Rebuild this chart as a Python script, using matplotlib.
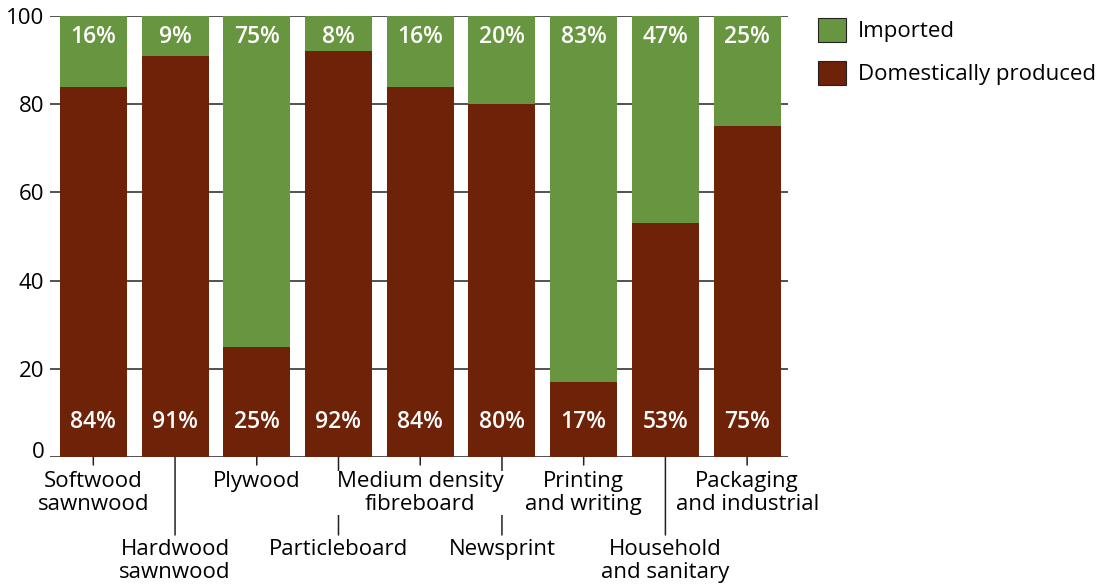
import numpy as np
import matplotlib.pyplot as plt
from matplotlib.patches import Patch
from matplotlib.transforms import ScaledTranslation

plt.rcParams['font.family'] = ['Open Sans', 'DejaVu Sans']

categories = ['Softwood\nsawnwood', 'Hardwood\nsawnwood', 'Plywood', 'Particleboard',
              'Medium density\nfibreboard', 'Newsprint', 'Printing\nand writing',
              'Household\nand sanitary', 'Packaging\nand industrial']
domestic = [84, 91, 25, 92, 84, 80, 17, 53, 75]
imported = [16, 9, 75, 8, 16, 20, 83, 47, 25]

green = '#689640'
brown = '#6e2308'
fs = 16

fig = plt.figure(figsize=(11.06, 5.86), dpi=100)
ax = fig.add_axes([50 / 1106, 129 / 586, 738 / 1106, 441 / 586])

x = np.arange(len(categories))
ax.bar(x, domestic, width=0.82, color=brown, zorder=2)
ax.bar(x, imported, width=0.82, bottom=domestic, color=green, zorder=2)

for i in x:
    ax.text(i, 8, f'{domestic[i]}%', color='white', fontsize=16.5, fontweight='semibold',
            ha='center', va='center', zorder=3)
    ax.text(i, 95.2, f'{imported[i]}%', color='white', fontsize=16.5, fontweight='semibold',
            ha='center', va='center', zorder=3)

for yv in [0, 20, 40, 60, 80, 100]:
    ax.axhline(yv, color='#222222', lw=1.1, zorder=1)

ax.set_xlim(-0.53, 8.5)
ax.set_ylim(0, 100)
ax.set_yticks([0, 20, 40, 60, 80, 100])
ax.tick_params(axis='y', length=0, labelsize=fs, pad=4)
ax.set_xticks([])
for s in ax.spines.values():
    s.set_visible(False)
# lift the "0" label a little so it clears the first category label
fig.canvas.draw()
lab0 = ax.get_yticklabels()[0]
lab0.set_transform(lab0.get_transform() + ScaledTranslation(0, 7 / 100, fig.dpi_scale_trans))

# category labels, alternating rows with leader lines
for i, name in enumerate(categories):
    low = i % 2 == 1
    ln = 78 if low else 8
    ax.annotate('', xy=(i, 0), xycoords=('data', 'axes fraction'),
                xytext=(0, -ln), textcoords='offset pixels',
                arrowprops=dict(arrowstyle='-', color='#222222', lw=1.1,
                                shrinkA=0, shrinkB=0), annotation_clip=False)
for i, name in enumerate(categories):
    low = i % 2 == 1
    off = -82 if low else -14
    ax.annotate(name, xy=(i, 0), xycoords=('data', 'axes fraction'),
                xytext=(0, off), textcoords='offset pixels',
                ha='center', va='top', fontsize=fs, linespacing=1.1,
                bbox=dict(facecolor='white', edgecolor='none', pad=0),
                annotation_clip=False, zorder=5)

handles = [Patch(facecolor=green, edgecolor='#222222', lw=0.8),
           Patch(facecolor=brown, edgecolor='#222222', lw=0.8)]
fig.legend(handles, ['Imported', 'Domestically produced'], loc='upper left',
           bbox_to_anchor=(818 / 1106, 1 - 18 / 586), frameon=False, fontsize=fs,
           borderpad=0, borderaxespad=0,
           handlelength=1.25, handleheight=1.25, labelspacing=0.85, handletextpad=0.55)

fig.savefig('out.png', dpi=100)
